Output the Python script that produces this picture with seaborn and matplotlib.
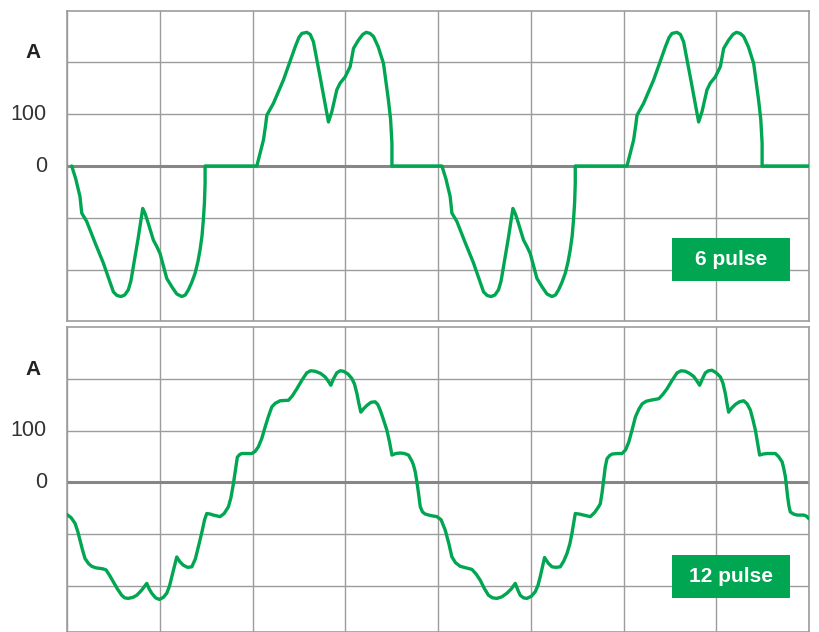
import matplotlib
matplotlib.use("Agg")
import matplotlib.pyplot as plt
import seaborn as sns
import pandas as pd
from matplotlib.patches import Rectangle

# ---------------- data ----------------
# phase angle in degrees, current in A
six_x = [4.6, 8.5, 12.6, 14.3, 19.1, 27.0, 35.2, 45.0, 48.5, 52.4, 56.0, 59.5, 62.0, 64.4, 69.0, 73.5,
         76.0, 78.9, 83.8, 87.0, 90.3, 93.5, 96.8, 101.7, 106.5, 111.4, 114.8, 117.8, 121.0, 124.3, 127.0,
         129.1, 131.0, 132.3, 133.4, 134.0, 134.0, 184.2,
         190.6, 192.8, 193.9, 200.3, 210.0, 221.4, 225.0, 227.9, 232.7, 236.0, 239.1, 242.0, 245.6, 250.0,
         253.7, 257.0, 261.8, 265.0, 269.9, 274.8, 278.0, 282.8, 287.0, 290.3, 294.0, 297.4, 302.0, 307.1,
         311.9, 314.0, 315.3, 315.3, 363.8,
         367.7, 371.8, 373.5, 378.3, 386.2, 394.4, 404.2, 407.7, 411.6, 415.2, 418.7, 421.2, 423.6, 428.2,
         432.7, 435.2, 438.1, 443.0, 446.2, 449.5, 452.7, 456.0, 460.9, 465.7, 470.6, 474.0, 477.0, 480.2,
         483.5, 486.2, 488.3, 490.2, 491.5, 492.6, 493.2, 493.2, 543.4,
         549.8, 552.0, 553.1, 559.5, 569.2, 580.6, 584.2, 587.1, 591.9, 595.2, 598.3, 601.2, 604.8, 609.2,
         612.9, 616.2, 621.0, 624.2, 629.1, 634.0, 637.2, 642.0, 646.2, 649.5, 653.2, 656.6, 661.2, 666.3,
         671.1, 673.2, 674.5, 674.5, 720.0]
six_y = [0, -25, -59, -91, -107, -147, -187, -243, -250, -252, -249, -239, -222, -194, -140, -82,
         -93, -111, -143, -155, -169, -193, -217, -233, -247, -252, -249, -239, -225, -207, -185,
         -162, -135, -104, -70, -33, 0, 0,
         50, 80, 98, 121, 166, 230, 248, 256, 258, 254, 240, 210, 172, 125,
         85, 105, 147, 160, 172, 192, 227, 243, 254, 258, 256, 250, 230, 198,
         127, 90, 44, 0, 0,
         -25, -59, -91, -107, -147, -187, -243, -250, -252, -249, -239, -222, -194, -140,
         -82, -93, -111, -143, -155, -169, -193, -217, -233, -247, -252, -249, -239, -225,
         -207, -185, -162, -135, -104, -70, -33, 0, 0,
         50, 80, 98, 121, 166, 230, 248, 256, 258, 254, 240, 210, 172, 125,
         85, 105, 147, 160, 172, 192, 227, 243, 254, 258, 256, 250, 230, 198,
         127, 90, 44, 0, 0]

twelve_x = [0.0, 4.0, 7.8, 10.5, 12.6, 15.0, 17.5, 21.0, 24.0, 28.0, 32.0, 35.0, 37.9, 41.5, 45.0, 49.0,
            53.1, 56.0, 59.5, 64.0, 67.7, 72.5, 77.4, 79.8, 82.2, 86.0, 89.6, 93.5, 96.8, 99.5, 101.7,
            104.5, 106.5, 109.5, 112.9, 117.0, 121.1, 124.5, 127.5, 131.0, 133.5, 135.6, 139.0, 142.0,
            148.5, 152.5, 156.6, 159.0, 161.5, 163.5, 165.3, 167.5, 169.6, 175.0, 179.3, 182.5, 185.7,
            189.0, 192.2, 195.5, 198.7, 202.0, 206.8, 214.9, 218.5, 223.0, 228.0, 232.7, 236.5, 240.8,
            246.0, 250.5, 253.5, 256.0, 258.5, 261.8, 265.0, 268.3, 272.5, 276.4, 279.0, 281.3, 283.3,
            285.1, 288.0, 291.0, 295.0, 299.0, 301.5, 303.9, 307.0, 310.4, 313.0, 315.3, 319.0, 323.3,
            327.5, 331.4, 334.5, 336.0, 338.0, 339.6, 341.1, 342.8, 345.0, 347.6, 353.0, 358.9,
            363.0, 367.0, 370.5, 373.5, 377.0, 381.5, 387.0, 392.9, 397.0, 401.0, 405.0, 409.0, 413.0,
            417.2, 422.0, 426.9, 431.0, 435.0, 437.5, 439.8, 443.0, 446.3, 450.5, 454.4, 457.0, 459.2,
            461.5, 463.4, 467.0, 470.6, 474.5, 478.6, 482.0, 485.2, 488.0, 490.0, 492.0, 493.2, 497.0,
            501.3, 507.8, 512.0, 515.8, 517.5, 519.2, 520.7, 522.3, 524.0, 526.5, 528.9, 534.0, 538.6,
            542.0, 545.1, 548.5, 551.6, 555.0, 558.1, 562.0, 566.2, 574.3, 578.0, 582.2, 587.0, 592.0,
            596.0, 600.0, 604.0, 608.1, 611.0, 613.9, 616.5, 619.4, 622.5, 625.9, 630.0, 634.0, 636.5,
            638.8, 640.5, 642.0, 645.0, 648.6, 652.5, 656.6, 660.0, 663.1, 665.5, 668.0, 670.0, 672.1,
            675.5, 679.3, 683.0, 687.4, 690.5, 693.9, 695.5, 697.1, 698.2, 699.3, 700.5, 701.9, 705.0,
            708.4, 714.9, 717.5, 720.0]
twelve_y = [-62, -68, -79, -95, -111, -130, -147, -157, -162, -165, -166, -167, -169, -180, -192, -206,
            -218, -223, -224, -222, -218, -208, -195, -206, -214, -223, -226, -222, -214, -200, -182,
            -160, -144, -153, -160, -164, -163, -148, -124, -95, -72, -60, -61, -63,
            -66, -60, -47, -30, -2, 25, 49, 54, 56, 56, 56, 60, 69,
            85, 107, 128, 146, 153, 158, 159, 167, 181, 198, 212, 216, 215,
            211, 204, 196, 188, 200, 212, 216, 215, 210, 201, 190, 172, 152,
            136, 143, 149, 155, 156, 151, 140, 122, 101, 78, 53, 56, 57,
            56, 53, 42, 35, 20, 0, -21, -47, -57, -61, -64, -66,
            -72, -92, -118, -144, -155, -162, -165, -168, -177, -189, -205, -218, -223,
            -224, -221, -214, -206, -195, -208, -218, -223, -224, -220, -211, -199, -182,
            -162, -145, -156, -163, -164, -163, -152, -137, -118, -98, -75, -60, -61,
            -63, -66, -58, -47, -41, -20, 5, 30, 46, 52, 55, 56, 56,
            63, 78, 103, 127, 142, 152, 157, 159, 162, 170, 181, 197, 212,
            216, 215, 211, 205, 197, 188, 200, 212, 216, 217, 212, 204, 192,
            172, 152, 136, 144, 151, 156, 158, 152, 140, 122, 101, 78, 53,
            55, 56, 56, 56, 50, 40, 27, 11, -8, -28, -45, -57, -61,
            -63, -63, -65, -70]

panel_labels = ["6 pulse", "12 pulse"]
y_tick_labels = ["100", "0"]
unit_label = "A"

# ---------------- style ----------------
sns.set_style("white")
plt.rcParams['font.family'] = ['Liberation Sans', 'DejaVu Sans']

GREEN = "#00a651"
GRID = "#9c9c9c"

W, H = 819, 632
fig = plt.figure(figsize=(W / 100, H / 100), dpi=100)

def px_ax(left, top, right, bottom):
    return fig.add_axes([left / W, 1 - bottom / H, (right - left) / W, (bottom - top) / H])

ax1 = px_ax(67, 10.6, 809, 321.4)
ax2 = px_ax(67, 327.3, 809, 632)

df6 = pd.DataFrame({"deg": six_x, "amp": six_y})
df12 = pd.DataFrame({"deg": twelve_x, "amp": twelve_y})

for ax, df, ylim, lab, box_y in [(ax1, df6, (-300, 300), panel_labels[0], (0.131, 0.268)),
                                 (ax2, df12, (-289, 300), panel_labels[1], (0.1126, 0.2527))]:
    ax.set_xlim(0, 720)
    ax.set_ylim(*ylim)
    ax.set_xticks(range(0, 721, 90))
    ax.set_yticks([-200, -100, 100, 200])
    ax.grid(True, color=GRID, linewidth=1.0)
    ax.axhline(0, color="#868686", linewidth=2.2, zorder=1.5)
    sns.lineplot(data=df, x="deg", y="amp", ax=ax, sort=False, estimator=None,
                 color=GREEN, linewidth=2.4, zorder=3)
    ax.set_xlabel("")
    ax.set_ylabel("")
    ax.tick_params(labelleft=False, labelbottom=False, length=0)
    for s in ax.spines.values():
        s.set_color(GRID)
        s.set_linewidth(1.2)
    x0, x1 = 0.8154, 0.9744
    ax.add_patch(Rectangle((x0, box_y[0]), x1 - x0, box_y[1] - box_y[0], transform=ax.transAxes,
                           facecolor=GREEN, edgecolor="none", zorder=4))
    ax.text((x0 + x1) / 2, (box_y[0] + box_y[1]) / 2, lab, transform=ax.transAxes,
            ha="center", va="center", color="white", fontsize=15, fontweight="bold", zorder=5)

# axis texts (unit and tick labels)
for zero_px, a_px in [(166, 52.5), (482.3, 369.5)]:
    fig.text(33 / W, 1 - a_px / H, unit_label, ha="center", va="center",
             fontsize=15, fontweight="bold", color="#222222")
    fig.text(47 / W, 1 - (zero_px - 51.8) / H, y_tick_labels[0], ha="right", va="center",
             fontsize=15.5, color="#333333")
    fig.text(47 / W, 1 - zero_px / H, y_tick_labels[1], ha="right", va="center",
             fontsize=15.5, color="#333333")

fig.savefig("out.png", dpi=100)
